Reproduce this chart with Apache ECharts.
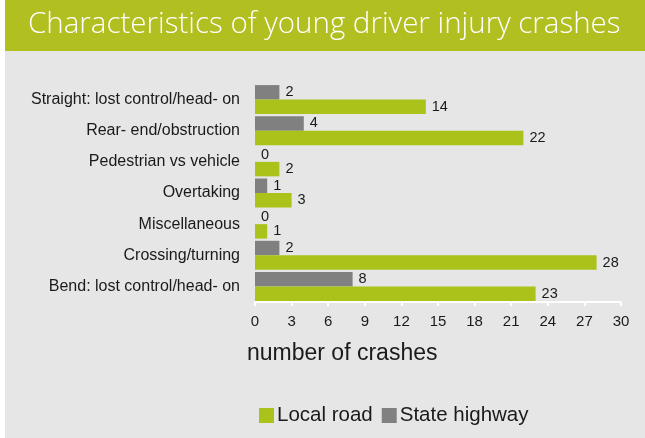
<!DOCTYPE html>
<html>
<head>
<meta charset="utf-8">
<script src="https://cdn.jsdelivr.net/npm/echarts@6/dist/echarts.min.js"></script>
<style>
  html, body { margin: 0; padding: 0; background: #ffffff; }
  #chart { width: 645px; height: 438px; }
</style>
</head>
<body>
<div id="chart"></div>
<script>
// categories listed top to bottom as in the picture
var categories = [
  'Straight: lost control/head- on',
  'Rear- end/obstruction',
  'Pedestrian vs vehicle',
  'Overtaking',
  'Miscellaneous',
  'Crossing/turning',
  'Bend: lost control/head- on'
]
var localRoad = [14, 22, 2, 3, 1, 28, 23]
var stateHighway = [2, 4, 0, 1, 0, 2, 8]
var xTicks = [0, 30, 3] // min, max, interval

var chart = echarts.init(document.getElementById('chart'))
var txt = '#1a1a1a'
var font = 'Liberation Sans'

var options = {
  backgroundColor: '#ffffff',
  animation: false,
  graphic: [
    { type: 'rect', shape: { x: 5, y: 0, width: 640, height: 51 }, style: { fill: '#b1bf20' }, z: -10 },
    { type: 'rect', shape: { x: 5, y: 51, width: 640, height: 387 }, style: { fill: '#e6e6e6' }, z: -10 },
    {
      type: 'text',
      left: 247,
      top: 342,
      style: { text: 'number of crashes', fill: txt, font: '23px "Liberation Sans"' }
    }
  ],
  title: {
    text: 'Characteristics of young driver injury crashes',
    left: 23,
    top: 5,
    textStyle: {
      color: '#ffffff',
      fontSize: 29.5,
      fontWeight: 300,
      fontFamily: 'Open Sans'
    }
  },
  legend: {
    left: 259,
    top: 405,
    padding: 0,
    itemWidth: 15,
    itemHeight: 15,
    itemGap: 9,
    icon: 'rect',
    data: ['Local road', 'State highway'],
    textStyle: { color: txt, fontSize: 20.5, fontFamily: font, padding: [0, 0, 0, -2] }
  },
  grid: {
    left: 255,
    right: 24,
    top: 84,
    bottom: 136
  },
  xAxis: {
    type: 'value',
    min: xTicks[0],
    max: xTicks[1],
    interval: xTicks[2],
    axisLine: { show: true, lineStyle: { color: '#ffffff', width: 2 } },
    axisTick: { show: true, length: 4, lineStyle: { color: '#ffffff', width: 2 } },
    splitLine: { show: false },
    axisLabel: { color: txt, fontSize: 15, fontFamily: font, margin: 12 }
  },
  yAxis: {
    type: 'category',
    inverse: true,
    data: categories,
    axisLine: { show: false },
    axisTick: { show: false },
    axisLabel: { color: txt, fontSize: 16, fontFamily: font, margin: 15 }
  },
  series: [
    {
      name: 'State highway',
      type: 'bar',
      data: stateHighway,
      barGap: '0%',
      barCategoryGap: '7%',
      itemStyle: { color: '#808080' },
      label: { show: true, position: 'right', distance: 6, color: txt, fontSize: 14.5, fontFamily: font }
    },
    {
      name: 'Local road',
      type: 'bar',
      data: localRoad,
      barGap: '0%',
      barCategoryGap: '7%',
      itemStyle: { color: '#abc21a' },
      label: { show: true, position: 'right', distance: 6, color: txt, fontSize: 14.5, fontFamily: font }
    }
  ]
}
chart.setOption(options)
window.addEventListener('resize', function () {
  chart.resize()
})
</script>
</body>
</html>
